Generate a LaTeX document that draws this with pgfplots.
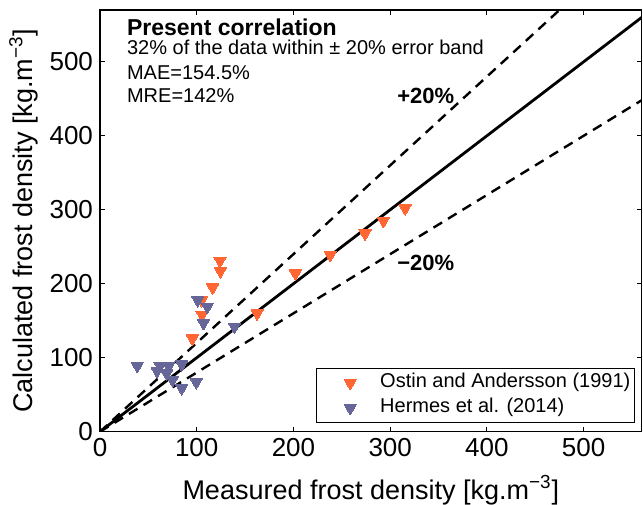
\documentclass[border=0pt]{standalone}
\usepackage{fontspec}
\setmainfont{Liberation Sans}
\usepackage{pgfplots}
\pgfplotsset{compat=1.18}
\definecolor{ostin}{RGB}{255,102,51}
\definecolor{hermes}{RGB}{102,102,153}
\begin{document}
\begin{tikzpicture}
\begin{axis}[
  at={(0,0)}, anchor=origin, scale only axis,
  width=270.85pt, height=210.85pt,
  xmin=0, xmax=560, ymin=0, ymax=570,
  xtick={0,100,...,500}, ytick={0,100,...,500},
  tick align=inside, major tick length=2.5pt,
  axis line style={line width=0.75pt},
  tick style={line width=0.5pt, black},
  /pgf/number format/assume math mode=true,
  tick label style={font=\fontsize{13}{15}\selectfont},
  label style={font=\fontsize{13.5}{16}\selectfont},
  xlabel={Measured frost density [kg.m\textsuperscript{−3}]},
  ylabel={Calculated frost density [kg.m\textsuperscript{−3}]},
  x label style={at={(axis description cs:0.5,-0.16)}, anchor=base},
  y label style={at={(axis description cs:-0.124,0.5)}, anchor=base},
  legend style={at={(rel axis cs:0.9876,0.0206)}, anchor=south east,
    draw=black, line width=0.6pt, font=\fontsize{10}{12}\selectfont,
    inner xsep=1pt, inner ysep=1.75pt, row sep=1.5pt, column sep=0pt,
    nodes={inner xsep=1pt, inner ysep=0.5pt, text height=7.5pt, text depth=2.5pt}},
  legend cell align=left,
  legend image code/.code={\path[draw=none] (-16pt,0pt) -- (14pt,0pt); \draw[#1, only marks] plot coordinates {(0pt,0pt)};},
]
\addplot[ostin, only marks, mark=triangle*, mark size=3.5pt, mark options={rotate=180, fill=ostin, draw=ostin, line width=0pt}] coordinates {
(95.5,126) (105.5,158) (105,178) (116.5,195) (124.5,217) (124,231) (162.5,160) (202,214) (238,239) (274,268) (293,285) (315.5,302)
};
\addlegendentry{Ostin and Andersson (1991)}
\addplot[hermes, only marks, mark=triangle*, mark size=3.5pt, mark options={rotate=180, fill=hermes, draw=hermes, line width=0pt}] coordinates {
(38.5,89) (62,89) (71,89) (84.5,91) (59,82) (69,79) (75,70) (84.5,59) (99.5,67) (101,178) (111,169) (107,147) (139,142)
};
\addlegendentry{Hermes et al. (2014)}
\addplot[black, line width=1.4pt, forget plot] coordinates {(0,0) (570,570)};
\addplot[black, line width=1.2pt, dash pattern=on 5pt off 3.5pt, forget plot] coordinates {(0,0) (475,570)};
\addplot[black, line width=1.2pt, dash pattern=on 5pt off 3.5pt, forget plot] coordinates {(0,0) (560,448)};
\node[anchor=base west, font=\fontsize{11.5}{13}\selectfont\bfseries] at (axis cs:20.7,536) {Present correlation};
\node[anchor=base west, font=\fontsize{10}{12}\selectfont] at (axis cs:20.7,509.4) {32\% of the data within ± 20\% error band};
\node[anchor=base west, font=\fontsize{10}{12}\selectfont] at (axis cs:20.7,475.7) {MAE=154.5\%};
\node[anchor=base west, font=\fontsize{10}{12}\selectfont] at (axis cs:20.7,444.6) {MRE=142\%};
\node[anchor=base west, font=\fontsize{11}{13}\selectfont\bfseries] at (axis cs:300,443.3) {+20\%};
\node[anchor=base west, font=\fontsize{11}{13}\selectfont\bfseries] at (axis cs:300,218) {−20\%};
\end{axis}
\pgfresetboundingbox
\useasboundingbox (-50pt,-36.15pt) rectangle (271.5pt,215.85pt);
\end{tikzpicture}
\end{document}
